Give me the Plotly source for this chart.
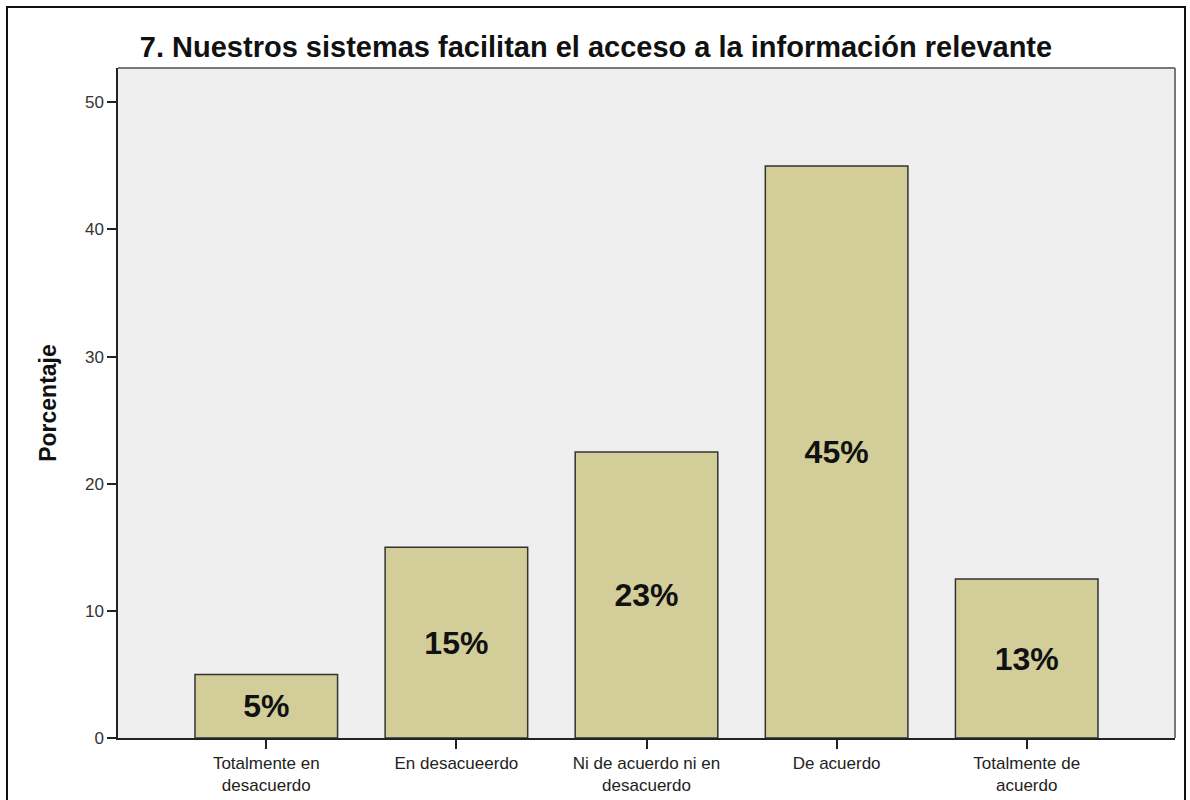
import plotly.graph_objects as go

categories = ["Totalmente en<br>desacuerdo", "En desacueerdo", "Ni de acuerdo ni en<br>desacuerdo",
              "De acuerdo", "Totalmente de<br>acuerdo"]
values = [5.0, 15.0, 22.5, 45.0, 12.5]
labels = ["5%", "15%", "23%", "45%", "13%"]
y_ticks = [0, 10, 20, 30, 40, 50]

L, R, T, B = 118, 15, 68, 62
W, H = 1190, 800
pw, ph = W - L - R, H - T - B

def px_x(p):
    return (p - L) / pw

def px_y(p):
    return (H - B - p) / ph

fig = go.Figure()
fig.add_trace(go.Bar(
    x=list(range(len(categories))), y=values, text=labels,
    textposition="inside", insidetextanchor="middle", textangle=0,
    textfont=dict(family="Arial, Liberation Sans", size=32, color="#111111", weight="bold"),
    marker=dict(color="#d3ce99", line=dict(color="#333333", width=1.5)),
    width=0.75, hoverinfo="skip", cliponaxis=False,
))

fig.update_layout(
    width=W, height=H,
    margin=dict(l=L, r=R, t=T, b=B, autoexpand=False),
    paper_bgcolor="white", plot_bgcolor="#efefef",
    showlegend=False,
    uniformtext=dict(minsize=8, mode="show"),
    font=dict(family="Arial, Liberation Sans", color="#333333"),
    title=dict(text="<b>7. Nuestros sistemas facilitan el acceso a la información relevante</b>",
               x=596 / W, xref="container", xanchor="center", y=1 - 47 / H, yanchor="middle",
               font=dict(size=29, color="#111111")),
    xaxis=dict(
        range=[-0.78, 4.78], tickmode="array", tickvals=list(range(len(categories))),
        ticktext=categories, ticks="outside", ticklen=9, tickwidth=1.5, tickcolor="#222222",
        showline=True, linecolor="#222222", linewidth=1.5, showgrid=False, zeroline=False,
        tickfont=dict(size=17, color="#222222"), automargin=False,
    ),
    yaxis=dict(
        range=[0, 52.7], tickmode="array", tickvals=y_ticks, ticks="outside", ticklen=9,
        tickwidth=1.5, tickcolor="#222222", showline=True, linecolor="#222222", linewidth=1.5,
        showgrid=False, zeroline=False, tickfont=dict(size=17, color="#333333"), automargin=False,
        title=dict(text="<b>Porcentaje</b>", font=dict(size=23, color="#111111"), standoff=22),
    ),
    shapes=[
        dict(type="line", xref="paper", yref="paper", x0=0, x1=1, y0=1, y1=1,
             line=dict(color="#777777", width=2)),
        dict(type="line", xref="paper", yref="paper", x0=1, x1=1, y0=0, y1=1,
             line=dict(color="#777777", width=2)),
        dict(type="rect", xref="paper", yref="paper", x0=px_x(7), x1=px_x(1185),
             y0=px_y(810), y1=px_y(7), line=dict(color="#111111", width=2), layer="below"),
    ],
)

fig.write_html("out.html")
